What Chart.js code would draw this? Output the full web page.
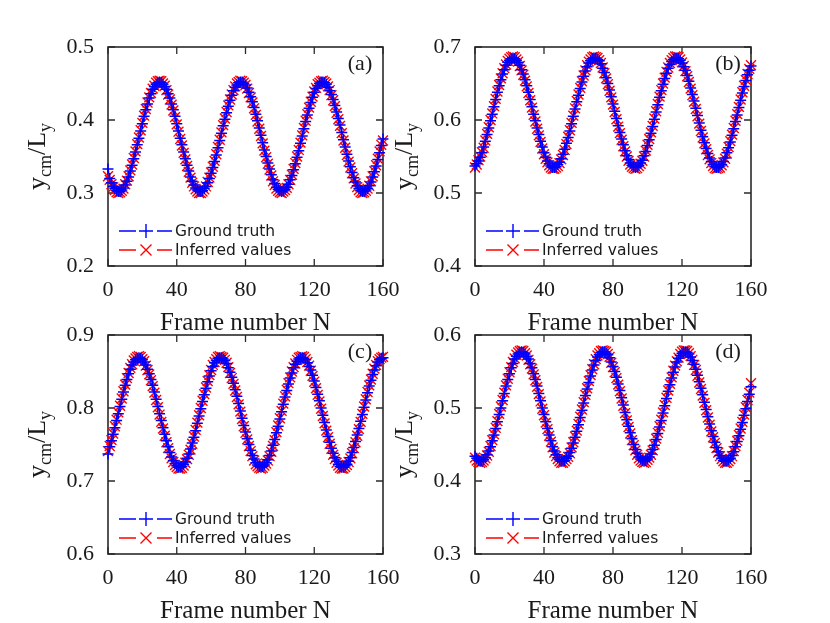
<!DOCTYPE html>
<html><head><meta charset="utf-8">
<script src="https://cdn.jsdelivr.net/npm/chart.js@4.4.0/dist/chart.umd.min.js"></script>
<style>
html,body{margin:0;padding:0;background:#fff;}
#wrap{position:relative;width:830px;height:623px;overflow:hidden;background:#fff;}
#wrap canvas{position:absolute;left:0;top:0;width:830px;height:623px;}
</style></head><body>
<div id="wrap">
<canvas id="cA" width="830" height="623"></canvas>
<canvas id="cB" width="830" height="623"></canvas>
<canvas id="cC" width="830" height="623"></canvas>
<canvas id="cD" width="830" height="623"></canvas>
</div>
<script>
const frames = [0,1,2,3,4,5,6,7,8,9,10,11,12,13,14,15,16,17,18,19,20,21,22,23,24,25,26,27,28,29,30,31,32,33,34,35,36,37,38,39,40,41,42,43,44,45,46,47,48,49,50,51,52,53,54,55,56,57,58,59,60,61,62,63,64,65,66,67,68,69,70,71,72,73,74,75,76,77,78,79,80,81,82,83,84,85,86,87,88,89,90,91,92,93,94,95,96,97,98,99,100,101,102,103,104,105,106,107,108,109,110,111,112,113,114,115,116,117,118,119,120,121,122,123,124,125,126,127,128,129,130,131,132,133,134,135,136,137,138,139,140,141,142,143,144,145,146,147,148,149,150,151,152,153,154,155,156,157,158,159,160];
const xTicks = [0,40,80,120,160];
const yTicksA = [0.2,0.3,0.4,0.5];
const yTicksB = [0.4,0.5,0.6,0.7];
const yTicksC = [0.6,0.7,0.8,0.9];
const yTicksD = [0.3,0.4,0.5,0.6];
const seriesNames = ['Ground truth','Inferred values'];
const panelLabels = ['(a)','(b)','(c)','(d)'];
const xTitle = 'Frame number N';

const gtA = [0.333,0.320,0.314,0.309,0.306,0.303,0.302,0.302,0.304,0.307,
0.311,0.316,0.322,0.330,0.338,0.347,0.356,0.366,0.375,0.385,
0.395,0.405,0.414,0.422,0.430,0.436,0.442,0.446,0.449,0.451,
0.452,0.451,0.449,0.446,0.442,0.436,0.430,0.422,0.414,0.405,
0.395,0.385,0.375,0.366,0.356,0.347,0.338,0.330,0.322,0.316,
0.311,0.307,0.304,0.302,0.302,0.303,0.306,0.309,0.314,0.320,
0.327,0.335,0.343,0.352,0.362,0.372,0.382,0.392,0.401,0.410,
0.419,0.427,0.434,0.440,0.445,0.448,0.451,0.452,0.452,0.450,
0.448,0.444,0.438,0.432,0.425,0.417,0.408,0.399,0.389,0.379,
0.369,0.359,0.350,0.341,0.333,0.325,0.318,0.313,0.308,0.305,
0.303,0.302,0.303,0.305,0.308,0.312,0.318,0.324,0.332,0.340,
0.349,0.358,0.368,0.378,0.388,0.398,0.407,0.416,0.424,0.431,
0.438,0.443,0.447,0.450,0.452,0.452,0.451,0.449,0.445,0.440,
0.435,0.428,0.420,0.411,0.402,0.393,0.383,0.373,0.363,0.353,
0.344,0.336,0.328,0.321,0.315,0.310,0.306,0.303,0.302,0.302,
0.304,0.306,0.310,0.315,0.322,0.329,0.337,0.346,0.355,0.365,
0.374];
const infA = [0.323,0.318,0.312,0.308,0.304,0.301,0.300,0.301,0.303,0.306,
0.312,0.317,0.323,0.331,0.339,0.348,0.357,0.367,0.376,0.386,
0.396,0.406,0.415,0.424,0.431,0.437,0.443,0.447,0.451,0.453,
0.454,0.453,0.450,0.447,0.441,0.435,0.428,0.421,0.413,0.404,
0.394,0.384,0.374,0.365,0.355,0.346,0.337,0.329,0.321,0.314,
0.309,0.305,0.302,0.300,0.300,0.302,0.305,0.309,0.315,0.321,
0.328,0.336,0.344,0.353,0.363,0.373,0.383,0.393,0.402,0.411,
0.420,0.428,0.435,0.441,0.446,0.450,0.452,0.454,0.453,0.451,
0.448,0.443,0.437,0.431,0.424,0.416,0.407,0.398,0.388,0.378,
0.368,0.358,0.349,0.340,0.332,0.324,0.316,0.311,0.306,0.303,
0.301,0.300,0.302,0.304,0.307,0.312,0.318,0.325,0.333,0.341,
0.350,0.359,0.369,0.379,0.389,0.399,0.408,0.417,0.425,0.432,
0.439,0.444,0.449,0.451,0.453,0.454,0.452,0.450,0.446,0.441,
0.434,0.427,0.419,0.410,0.401,0.392,0.382,0.372,0.362,0.352,
0.343,0.335,0.327,0.320,0.313,0.308,0.304,0.301,0.300,0.301,
0.303,0.306,0.310,0.316,0.323,0.330,0.338,0.347,0.357,0.366,
0.372];

const gtB = [0.537,0.540,0.544,0.549,0.555,0.563,0.571,0.580,0.589,0.599,
0.608,0.618,0.628,0.638,0.647,0.655,0.663,0.669,0.675,0.679,
0.682,0.684,0.685,0.684,0.682,0.679,0.675,0.669,0.663,0.655,
0.647,0.638,0.628,0.618,0.608,0.599,0.589,0.580,0.571,0.563,
0.555,0.549,0.544,0.540,0.537,0.535,0.535,0.536,0.539,0.542,
0.547,0.553,0.560,0.568,0.576,0.585,0.595,0.605,0.615,0.625,
0.634,0.643,0.652,0.660,0.667,0.673,0.678,0.681,0.684,0.685,
0.685,0.683,0.681,0.677,0.671,0.665,0.658,0.650,0.641,0.632,
0.622,0.612,0.602,0.592,0.583,0.574,0.566,0.558,0.551,0.546,
0.541,0.538,0.536,0.535,0.536,0.538,0.541,0.545,0.551,0.557,
0.565,0.573,0.582,0.591,0.601,0.611,0.621,0.631,0.640,0.649,
0.657,0.664,0.671,0.676,0.680,0.683,0.685,0.685,0.684,0.682,
0.678,0.673,0.668,0.661,0.653,0.644,0.635,0.626,0.616,0.606,
0.596,0.586,0.577,0.569,0.561,0.554,0.548,0.543,0.539,0.536,
0.535,0.535,0.537,0.539,0.543,0.548,0.555,0.562,0.570,0.579,
0.588,0.598,0.607,0.617,0.627,0.637,0.646,0.654,0.662,0.668,
0.674];
const infB = [0.535,0.539,0.545,0.550,0.556,0.562,0.572,0.581,0.590,0.600,
0.609,0.619,0.629,0.639,0.648,0.657,0.664,0.671,0.676,0.681,
0.684,0.686,0.687,0.686,0.683,0.680,0.674,0.668,0.662,0.654,
0.646,0.637,0.627,0.617,0.607,0.598,0.588,0.579,0.570,0.561,
0.553,0.547,0.542,0.538,0.535,0.533,0.533,0.535,0.537,0.541,
0.546,0.552,0.559,0.567,0.577,0.586,0.596,0.606,0.616,0.626,
0.635,0.644,0.653,0.661,0.668,0.675,0.680,0.683,0.686,0.687,
0.686,0.685,0.682,0.678,0.672,0.664,0.657,0.649,0.640,0.631,
0.621,0.611,0.601,0.591,0.582,0.573,0.564,0.557,0.550,0.544,
0.539,0.536,0.534,0.533,0.534,0.537,0.540,0.544,0.550,0.558,
0.566,0.574,0.583,0.592,0.602,0.612,0.622,0.632,0.641,0.650,
0.658,0.666,0.672,0.678,0.682,0.685,0.687,0.687,0.686,0.683,
0.679,0.674,0.667,0.660,0.652,0.643,0.634,0.625,0.615,0.605,
0.595,0.585,0.576,0.568,0.560,0.552,0.546,0.541,0.537,0.534,
0.533,0.534,0.535,0.538,0.542,0.547,0.554,0.563,0.571,0.580,
0.589,0.599,0.608,0.618,0.628,0.638,0.647,0.655,0.663,0.670,
0.675];

const gtC = [0.737,0.747,0.755,0.764,0.773,0.783,0.792,0.802,0.812,0.822,
0.831,0.839,0.847,0.853,0.859,0.863,0.866,0.868,0.869,0.868,
0.866,0.863,0.859,0.853,0.847,0.839,0.831,0.822,0.812,0.802,
0.792,0.783,0.773,0.764,0.755,0.747,0.739,0.733,0.728,0.724,
0.721,0.719,0.719,0.720,0.723,0.726,0.731,0.737,0.744,0.752,
0.760,0.769,0.779,0.789,0.799,0.809,0.818,0.827,0.836,0.844,
0.851,0.857,0.862,0.865,0.868,0.869,0.869,0.867,0.865,0.861,
0.855,0.849,0.842,0.834,0.825,0.816,0.806,0.796,0.786,0.776,
0.767,0.758,0.750,0.742,0.735,0.730,0.725,0.722,0.720,0.719,
0.720,0.722,0.725,0.729,0.735,0.741,0.749,0.757,0.766,0.775,
0.785,0.795,0.805,0.815,0.824,0.833,0.841,0.848,0.855,0.860,
0.864,0.867,0.869,0.869,0.868,0.866,0.862,0.857,0.852,0.845,
0.837,0.828,0.819,0.810,0.800,0.790,0.780,0.770,0.761,0.753,
0.745,0.738,0.732,0.727,0.723,0.720,0.719,0.719,0.721,0.723,
0.727,0.732,0.739,0.746,0.754,0.763,0.772,0.782,0.791,0.801,
0.811,0.821,0.830,0.838,0.846,0.852,0.858,0.863,0.866,0.868,
0.869];
const infC = [0.741,0.748,0.756,0.765,0.775,0.784,0.794,0.803,0.813,0.823,
0.832,0.841,0.848,0.855,0.860,0.865,0.868,0.870,0.871,0.870,
0.867,0.864,0.858,0.852,0.846,0.838,0.830,0.821,0.811,0.801,
0.791,0.781,0.772,0.762,0.753,0.745,0.737,0.731,0.726,0.722,
0.719,0.717,0.717,0.718,0.721,0.725,0.730,0.736,0.743,0.751,
0.761,0.770,0.780,0.790,0.800,0.810,0.819,0.828,0.837,0.845,
0.852,0.859,0.863,0.867,0.870,0.871,0.870,0.869,0.866,0.862,
0.856,0.848,0.841,0.833,0.824,0.815,0.805,0.795,0.785,0.775,
0.766,0.757,0.748,0.741,0.734,0.728,0.723,0.720,0.718,0.717,
0.718,0.721,0.724,0.728,0.734,0.740,0.748,0.756,0.767,0.776,
0.786,0.796,0.806,0.816,0.825,0.834,0.842,0.850,0.856,0.861,
0.866,0.869,0.870,0.871,0.870,0.867,0.863,0.858,0.851,0.844,
0.836,0.827,0.818,0.809,0.799,0.789,0.779,0.769,0.760,0.751,
0.744,0.736,0.730,0.725,0.721,0.718,0.717,0.717,0.719,0.722,
0.726,0.731,0.738,0.745,0.753,0.762,0.771,0.781,0.792,0.802,
0.812,0.822,0.831,0.839,0.847,0.854,0.859,0.864,0.867,0.869,
0.870];

const gtD = [0.434,0.431,0.428,0.427,0.427,0.429,0.432,0.436,0.441,0.447,
0.455,0.463,0.472,0.481,0.491,0.500,0.510,0.520,0.530,0.539,
0.547,0.555,0.561,0.567,0.571,0.574,0.576,0.577,0.576,0.574,
0.571,0.567,0.561,0.555,0.547,0.539,0.530,0.520,0.510,0.500,
0.491,0.481,0.472,0.463,0.455,0.447,0.441,0.436,0.432,0.429,
0.427,0.427,0.428,0.431,0.434,0.439,0.445,0.452,0.460,0.468,
0.477,0.487,0.497,0.507,0.517,0.526,0.535,0.544,0.552,0.559,
0.565,0.570,0.573,0.576,0.577,0.577,0.575,0.573,0.569,0.563,
0.557,0.550,0.542,0.533,0.524,0.514,0.504,0.494,0.484,0.475,
0.466,0.458,0.450,0.443,0.438,0.433,0.430,0.428,0.427,0.428,
0.430,0.433,0.437,0.443,0.449,0.457,0.465,0.474,0.483,0.493,
0.503,0.513,0.523,0.532,0.541,0.549,0.556,0.563,0.568,0.572,
0.575,0.577,0.577,0.576,0.574,0.570,0.565,0.560,0.553,0.545,
0.536,0.527,0.518,0.508,0.498,0.488,0.478,0.469,0.461,0.453,
0.446,0.440,0.435,0.431,0.428,0.427,0.427,0.429,0.431,0.435,
0.440,0.447,0.454,0.462,0.471,0.480,0.490,0.499,0.509,0.519,
0.529];
const infD = [0.432,0.428,0.426,0.425,0.426,0.428,0.431,0.435,0.440,0.448,
0.456,0.464,0.473,0.482,0.492,0.502,0.511,0.521,0.531,0.540,
0.549,0.556,0.563,0.568,0.573,0.576,0.578,0.579,0.578,0.575,
0.572,0.566,0.560,0.554,0.546,0.538,0.529,0.519,0.509,0.499,
0.490,0.480,0.471,0.462,0.454,0.446,0.439,0.434,0.430,0.427,
0.425,0.425,0.427,0.430,0.433,0.438,0.446,0.453,0.461,0.469,
0.478,0.488,0.498,0.508,0.518,0.527,0.537,0.545,0.553,0.560,
0.567,0.572,0.575,0.578,0.579,0.578,0.577,0.574,0.570,0.562,
0.556,0.549,0.541,0.532,0.523,0.513,0.503,0.493,0.483,0.474,
0.465,0.456,0.449,0.442,0.436,0.431,0.428,0.426,0.425,0.426,
0.429,0.432,0.436,0.442,0.450,0.458,0.466,0.475,0.484,0.494,
0.504,0.514,0.524,0.533,0.542,0.551,0.558,0.564,0.569,0.574,
0.577,0.579,0.579,0.578,0.575,0.571,0.566,0.559,0.552,0.544,
0.535,0.526,0.517,0.507,0.497,0.487,0.477,0.468,0.460,0.452,
0.445,0.439,0.434,0.430,0.427,0.425,0.425,0.427,0.430,0.434,
0.441,0.448,0.455,0.463,0.472,0.481,0.491,0.501,0.511,0.521,
0.534];

// ---- layout / style (not data) ----
const SERIF = '"Liberation Serif", "Times New Roman", serif';
const SANS = '"DejaVu Sans", sans-serif';
const TEXT = '#1a1a1a';
const BLUE = '#0000ff', RED = '#ff0000';
const panels = [
  {id:'cA', label:panelLabels[0], gt:gtA, inf:infA, yTicks:yTicksA, box:{l:108,t:47,r:383,b:266}},
  {id:'cB', label:panelLabels[1], gt:gtB, inf:infB, yTicks:yTicksB, box:{l:475,t:47,r:751,b:266}},
  {id:'cC', label:panelLabels[2], gt:gtC, inf:infC, yTicks:yTicksC, box:{l:108,t:335,r:383,b:554}},
  {id:'cD', label:panelLabels[3], gt:gtD, inf:infD, yTicks:yTicksD, box:{l:475,t:335,r:751,b:554}}
];

function legendEntry(ctx, x0, y, color, kind, text){
  ctx.save();
  ctx.strokeStyle = color; ctx.lineWidth = 1.4; ctx.setLineDash([]);
  ctx.beginPath();
  ctx.moveTo(x0+11, y); ctx.lineTo(x0+28, y);
  ctx.moveTo(x0+49, y); ctx.lineTo(x0+64, y);
  ctx.stroke();
  const cx = x0 + 38;
  ctx.beginPath();
  if (kind === 'plus') {
    const r = 7;
    ctx.moveTo(cx-r, y); ctx.lineTo(cx+r, y);
    ctx.moveTo(cx, y-r); ctx.lineTo(cx, y+r);
  } else {
    const r = 5.5;
    ctx.moveTo(cx-r, y-r); ctx.lineTo(cx+r, y+r);
    ctx.moveTo(cx-r, y+r); ctx.lineTo(cx+r, y-r);
  }
  ctx.stroke();
  ctx.fillStyle = TEXT;
  ctx.font = '15.5px ' + SANS;
  ctx.textAlign = 'left'; ctx.textBaseline = 'middle';
  ctx.fillText(text, x0+67, y+1);
  ctx.restore();
}

function yTitle(ctx, cx, cy){
  ctx.save();
  ctx.translate(cx, cy);
  ctx.rotate(-Math.PI/2);
  ctx.fillStyle = TEXT;
  ctx.textBaseline = 'alphabetic';
  ctx.textAlign = 'left';
  const big = '26px ' + SERIF, small = '18px ' + SERIF;
  const parts = [['y', big, 0], ['cm', small, 6], ['/', big, 0], ['L', big, 0], ['y', small, 6]];
  let total = 0;
  parts.forEach(p => { ctx.font = p[1]; total += ctx.measureText(p[0]).width; });
  let x = -total/2;
  parts.forEach(p => { ctx.font = p[1]; ctx.fillText(p[0], x, 8 + p[2]); x += ctx.measureText(p[0]).width; });
  ctx.restore();
}

function makePlugin(p){
  return {
    id: 'deco' + p.id,
    beforeDatasetsDraw(chart){
      const ctx = chart.ctx, a = chart.chartArea;
      const xs = chart.scales.x, ys = chart.scales.y;
      ctx.save();
      ctx.strokeStyle = '#2a2a2a'; ctx.lineWidth = 1.6;
      ctx.strokeRect(a.left, a.top, a.right - a.left, a.bottom - a.top);
      ctx.lineWidth = 1.3;
      ctx.beginPath();
      const L = 7;
      xTicks.forEach(v => {
        const px = xs.getPixelForValue(v);
        ctx.moveTo(px, a.bottom); ctx.lineTo(px, a.bottom - L);
        ctx.moveTo(px, a.top); ctx.lineTo(px, a.top + L);
      });
      p.yTicks.forEach(v => {
        const py = ys.getPixelForValue(v);
        ctx.moveTo(a.left, py); ctx.lineTo(a.left + L, py);
        ctx.moveTo(a.right, py); ctx.lineTo(a.right - L, py);
      });
      ctx.stroke();
      ctx.restore();
    },
    afterDraw(chart){
      const ctx = chart.ctx, a = chart.chartArea;
      ctx.save();
      ctx.fillStyle = TEXT;
      ctx.font = '25px ' + SERIF;
      ctx.textAlign = 'center'; ctx.textBaseline = 'middle';
      ctx.fillText(xTitle, (a.left + a.right)/2, a.bottom + 57);
      ctx.font = '22px ' + SERIF;
      ctx.fillText(p.label, a.right - 23, a.top + 17);
      ctx.restore();
      yTitle(ctx, a.left - 71, (a.top + a.bottom)/2);
      legendEntry(ctx, a.left, a.bottom - 35, BLUE, 'plus', seriesNames[0]);
      legendEntry(ctx, a.left, a.bottom - 16, RED, 'x', seriesNames[1]);
    }
  };
}

panels.forEach(p => {
  const yMin = p.yTicks[0], yMax = p.yTicks[p.yTicks.length - 1];
  new Chart(document.getElementById(p.id), {
    type: 'line',
    data: {
      datasets: [
        {label: seriesNames[0], data: frames.map((f,i) => ({x:f, y:p.gt[i]})),
         borderColor: BLUE, backgroundColor: BLUE, borderWidth: 1.6, borderDash: [4,2],
         pointStyle: 'cross', pointRadius: 5.5, pointBorderWidth: 1.5, pointBorderColor: BLUE,
         pointHoverRadius: 5.5, tension: 0, clip: false},
        {label: seriesNames[1], data: frames.map((f,i) => ({x:f, y:p.inf[i]})),
         borderColor: RED, backgroundColor: RED, borderWidth: 1.4, borderDash: [4,2],
         pointStyle: 'crossRot', pointRadius: 7, pointBorderWidth: 1.4, pointBorderColor: RED,
         pointHoverRadius: 7, tension: 0, clip: false}
      ]
    },
    options: {
      responsive: false, animation: false, events: [],
      layout: {padding: {left: p.box.l - 60, top: p.box.t, right: 830 - p.box.r, bottom: 623 - p.box.b - 40}},
      plugins: {legend: {display: false}, tooltip: {enabled: false}},
      scales: {
        x: {type: 'linear', min: xTicks[0], max: xTicks[xTicks.length-1],
            afterBuildTicks: s => { s.ticks = xTicks.map(v => ({value: v})); },
            afterFit: s => { s.height = 40; },
            grid: {display: false, drawTicks: false}, border: {display: false},
            ticks: {padding: 11, color: TEXT, font: {family: SERIF, size: 22}, maxRotation: 0, autoSkip: false,
                    callback: v => String(v)}},
        y: {type: 'linear', min: yMin, max: yMax,
            afterBuildTicks: s => { s.ticks = p.yTicks.map(v => ({value: v})); },
            afterFit: s => { s.width = 60; },
            grid: {display: false, drawTicks: false}, border: {display: false},
            ticks: {padding: 14, color: TEXT, font: {family: SERIF, size: 22}, autoSkip: false,
                    callback: v => Number(v).toFixed(1)}}
      }
    },
    plugins: [makePlugin(p)]
  });
});
</script>
</body></html>
